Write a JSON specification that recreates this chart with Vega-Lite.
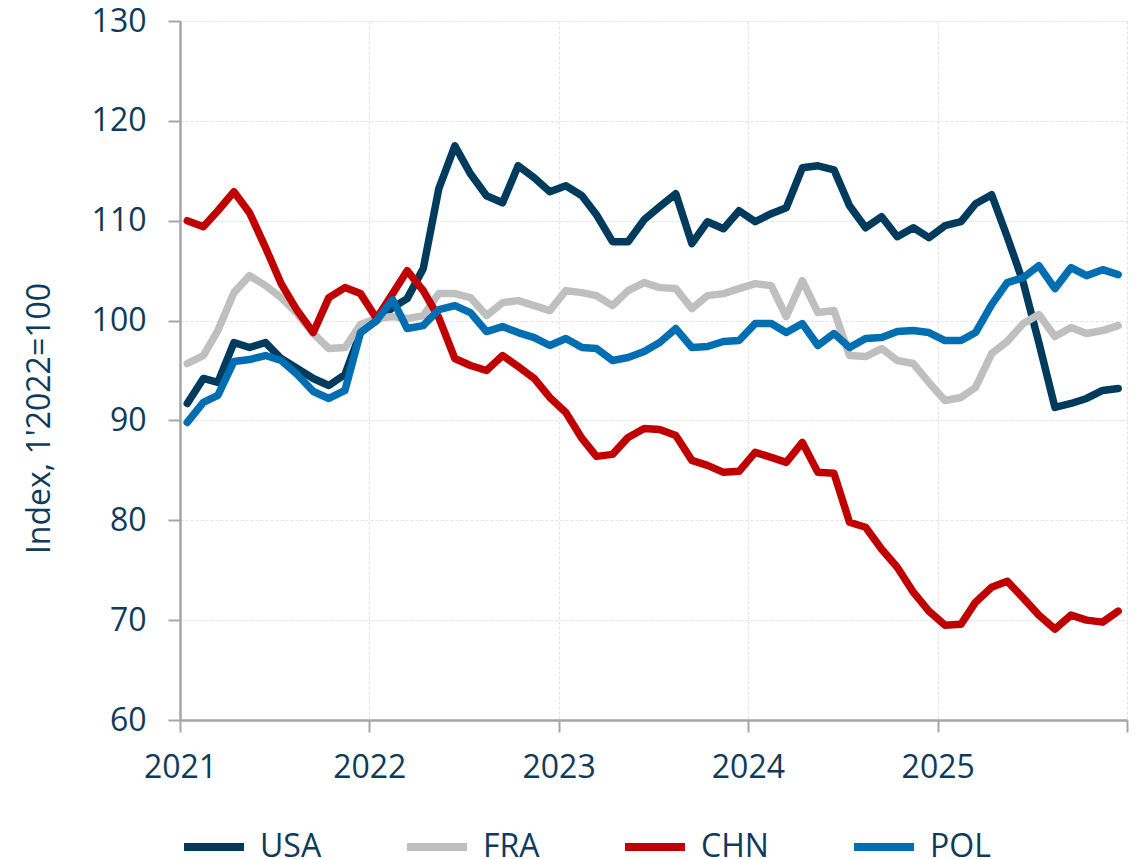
{
  "$schema": "https://vega.github.io/schema/vega-lite/v6.json",
  "width": 947,
  "height": 699,
  "autosize": {"type": "none"},
  "padding": {"left": 180, "top": 21, "right": 15, "bottom": 139},
  "background": "white",
  "config": {"view": {"stroke": null}, "font": "Open Sans"},
  "data": {"values": [
    {"d": "2021-01-15", "USA": 91.7, "FRA": 95.7, "CHN": 110.0, "POL": 89.8},
    {"d": "2021-02-15", "USA": 94.2, "FRA": 96.5, "CHN": 109.4, "POL": 91.8},
    {"d": "2021-03-15", "USA": 93.8, "FRA": 99.0, "CHN": 111.0, "POL": 92.5},
    {"d": "2021-04-15", "USA": 97.8, "FRA": 102.8, "CHN": 112.9, "POL": 95.9},
    {"d": "2021-05-15", "USA": 97.3, "FRA": 104.5, "CHN": 110.8, "POL": 96.1},
    {"d": "2021-06-15", "USA": 97.8, "FRA": 103.5, "CHN": 107.3, "POL": 96.5},
    {"d": "2021-07-15", "USA": 96.2, "FRA": 102.3, "CHN": 103.7, "POL": 96.0},
    {"d": "2021-08-15", "USA": 95.2, "FRA": 100.7, "CHN": 101.0, "POL": 94.6},
    {"d": "2021-09-15", "USA": 94.2, "FRA": 98.7, "CHN": 98.8, "POL": 92.9},
    {"d": "2021-10-15", "USA": 93.5, "FRA": 97.2, "CHN": 102.3, "POL": 92.2},
    {"d": "2021-11-15", "USA": 94.6, "FRA": 97.3, "CHN": 103.3, "POL": 93.0},
    {"d": "2021-12-15", "USA": 98.8, "FRA": 99.6, "CHN": 102.7, "POL": 98.8},
    {"d": "2022-01-15", "USA": 100.0, "FRA": 100.2, "CHN": 100.2, "POL": 100.0},
    {"d": "2022-02-15", "USA": 101.3, "FRA": 100.4, "CHN": 102.7, "POL": 102.1},
    {"d": "2022-03-15", "USA": 102.2, "FRA": 100.2, "CHN": 105.0, "POL": 99.2},
    {"d": "2022-04-15", "USA": 105.2, "FRA": 100.5, "CHN": 103.0, "POL": 99.5},
    {"d": "2022-05-15", "USA": 113.2, "FRA": 102.7, "CHN": 100.3, "POL": 101.1},
    {"d": "2022-06-15", "USA": 117.5, "FRA": 102.7, "CHN": 96.2, "POL": 101.5},
    {"d": "2022-07-15", "USA": 114.7, "FRA": 102.3, "CHN": 95.5, "POL": 100.8},
    {"d": "2022-08-15", "USA": 112.5, "FRA": 100.5, "CHN": 95.0, "POL": 98.9},
    {"d": "2022-09-15", "USA": 111.8, "FRA": 101.8, "CHN": 96.5, "POL": 99.4},
    {"d": "2022-10-15", "USA": 115.5, "FRA": 102.0, "CHN": 95.4, "POL": 98.8},
    {"d": "2022-11-15", "USA": 114.3, "FRA": 101.5, "CHN": 94.2, "POL": 98.3},
    {"d": "2022-12-15", "USA": 112.9, "FRA": 101.0, "CHN": 92.3, "POL": 97.5},
    {"d": "2023-01-15", "USA": 113.5, "FRA": 103.0, "CHN": 90.8, "POL": 98.2},
    {"d": "2023-02-15", "USA": 112.5, "FRA": 102.8, "CHN": 88.2, "POL": 97.3},
    {"d": "2023-03-15", "USA": 110.6, "FRA": 102.5, "CHN": 86.4, "POL": 97.2},
    {"d": "2023-04-15", "USA": 107.9, "FRA": 101.5, "CHN": 86.6, "POL": 96.0},
    {"d": "2023-05-15", "USA": 107.9, "FRA": 103.0, "CHN": 88.3, "POL": 96.3},
    {"d": "2023-06-15", "USA": 110.1, "FRA": 103.8, "CHN": 89.2, "POL": 96.9},
    {"d": "2023-07-15", "USA": 111.4, "FRA": 103.3, "CHN": 89.1, "POL": 97.8},
    {"d": "2023-08-15", "USA": 112.7, "FRA": 103.2, "CHN": 88.5, "POL": 99.2},
    {"d": "2023-09-15", "USA": 107.7, "FRA": 101.2, "CHN": 86.0, "POL": 97.3},
    {"d": "2023-10-15", "USA": 109.9, "FRA": 102.5, "CHN": 85.5, "POL": 97.4},
    {"d": "2023-11-15", "USA": 109.2, "FRA": 102.7, "CHN": 84.8, "POL": 97.9},
    {"d": "2023-12-15", "USA": 111.0, "FRA": 103.2, "CHN": 84.9, "POL": 98.0},
    {"d": "2024-01-15", "USA": 109.9, "FRA": 103.7, "CHN": 86.8, "POL": 99.7},
    {"d": "2024-02-15", "USA": 110.7, "FRA": 103.5, "CHN": 86.3, "POL": 99.7},
    {"d": "2024-03-15", "USA": 111.3, "FRA": 100.4, "CHN": 85.8, "POL": 98.8},
    {"d": "2024-04-15", "USA": 115.3, "FRA": 104.0, "CHN": 87.8, "POL": 99.7},
    {"d": "2024-05-15", "USA": 115.5, "FRA": 100.8, "CHN": 84.8, "POL": 97.5},
    {"d": "2024-06-15", "USA": 115.1, "FRA": 101.0, "CHN": 84.7, "POL": 98.7},
    {"d": "2024-07-15", "USA": 111.5, "FRA": 96.5, "CHN": 79.8, "POL": 97.3},
    {"d": "2024-08-15", "USA": 109.3, "FRA": 96.4, "CHN": 79.3, "POL": 98.2},
    {"d": "2024-09-15", "USA": 110.4, "FRA": 97.2, "CHN": 77.1, "POL": 98.3},
    {"d": "2024-10-15", "USA": 108.4, "FRA": 96.0, "CHN": 75.3, "POL": 98.9},
    {"d": "2024-11-15", "USA": 109.3, "FRA": 95.7, "CHN": 72.8, "POL": 99.0},
    {"d": "2024-12-15", "USA": 108.3, "FRA": 93.8, "CHN": 70.9, "POL": 98.8},
    {"d": "2025-01-15", "USA": 109.5, "FRA": 92.0, "CHN": 69.5, "POL": 98.0},
    {"d": "2025-02-15", "USA": 109.9, "FRA": 92.3, "CHN": 69.6, "POL": 98.0},
    {"d": "2025-03-15", "USA": 111.7, "FRA": 93.3, "CHN": 71.8, "POL": 98.8},
    {"d": "2025-04-15", "USA": 112.6, "FRA": 96.7, "CHN": 73.3, "POL": 101.6},
    {"d": "2025-05-15", "USA": 108.4, "FRA": 97.9, "CHN": 73.9, "POL": 103.8},
    {"d": "2025-06-15", "USA": 103.8, "FRA": 99.7, "CHN": 72.2, "POL": 104.3},
    {"d": "2025-07-15", "USA": 97.8, "FRA": 100.6, "CHN": 70.5, "POL": 105.5},
    {"d": "2025-08-15", "USA": 91.3, "FRA": 98.4, "CHN": 69.1, "POL": 103.2},
    {"d": "2025-09-15", "USA": 91.7, "FRA": 99.3, "CHN": 70.5, "POL": 105.3},
    {"d": "2025-10-15", "USA": 92.2, "FRA": 98.7, "CHN": 70.0, "POL": 104.5},
    {"d": "2025-11-15", "USA": 93.0, "FRA": 99.0, "CHN": 69.8, "POL": 105.1},
    {"d": "2025-12-15", "USA": 93.2, "FRA": 99.5, "CHN": 70.9, "POL": 104.6}
  ]},
  "transform": [{"fold": ["USA", "FRA", "CHN", "POL"], "as": ["country", "value"]}],
  "mark": {"type": "line", "strokeWidth": 7.5, "strokeCap": "round", "strokeJoin": "round"},
  "encoding": {
    "x": {
      "field": "d",
      "type": "temporal",
      "scale": {"type": "utc", "domain": [{"year": 2021, "month": 1, "date": 1, "utc": true}, {"year": 2026, "month": 1, "date": 1, "utc": true}]},
      "axis": {
        "title": null,
        "values": [
          {"year": 2021, "month": 1, "date": 1, "utc": true},
          {"year": 2022, "month": 1, "date": 1, "utc": true},
          {"year": 2023, "month": 1, "date": 1, "utc": true},
          {"year": 2024, "month": 1, "date": 1, "utc": true},
          {"year": 2025, "month": 1, "date": 1, "utc": true},
          {"year": 2026, "month": 1, "date": 1, "utc": true}
        ],
        "labelExpr": "utcyear(datum.value) > 2025 ? '' : '' + utcyear(datum.value)",
        "domainColor": "#A6A6A6",
        "domainWidth": 2.5,
        "tickColor": "#A6A6A6",
        "tickWidth": 2,
        "tickSize": 12,
        "labelFontSize": 32,
        "labelColor": "#0E3B5B",
        "labelPadding": 20,
        "labelFlush": false,
        "labelOverlap": false,
        "grid": true,
        "gridColor": "#E3E3E3",
        "gridDash": [3, 2],
        "gridWidth": 1.2
      }
    },
    "y": {
      "field": "value",
      "type": "quantitative",
      "scale": {"domain": [60, 130], "nice": false, "zero": false},
      "axis": {
        "title": "Index, 1'2022=100",
        "values": [60, 70, 80, 90, 100, 110, 120, 130],
        "domainColor": "#A6A6A6",
        "domainWidth": 2.5,
        "tickColor": "#A6A6A6",
        "tickWidth": 2,
        "tickSize": 12,
        "labelFontSize": 32,
        "labelColor": "#0E3B5B",
        "labelPadding": 22,
        "labelFlush": false,
        "grid": true,
        "gridColor": "#E3E3E3",
        "gridDash": [3, 2],
        "gridWidth": 1.2,
        "titleFontSize": 32,
        "titleFontWeight": "normal",
        "titleColor": "#0E3B5B",
        "titleAngle": -90,
        "titleX": -131,
        "titleY": 397,
        "titleAlign": "center",
        "titleBaseline": "alphabetic"
      }
    },
    "color": {
      "field": "country",
      "type": "nominal",
      "scale": {"domain": ["USA", "FRA", "CHN", "POL"], "range": ["#003A5D", "#BFBFBF", "#C00000", "#006EB0"]},
      "legend": {
        "orient": "none",
        "legendX": 0,
        "legendY": 792,
        "direction": "horizontal",
        "title": null,
        "symbolType": "stroke",
        "symbolSize": 3600,
        "symbolStrokeWidth": 8,
        "labelFontSize": 32,
        "labelColor": "#0E3B5B",
        "labelOffset": 12,
        "columnPadding": 69,
        "padding": 0,
        "labelLimit": 0
      }
    }
  }
}
